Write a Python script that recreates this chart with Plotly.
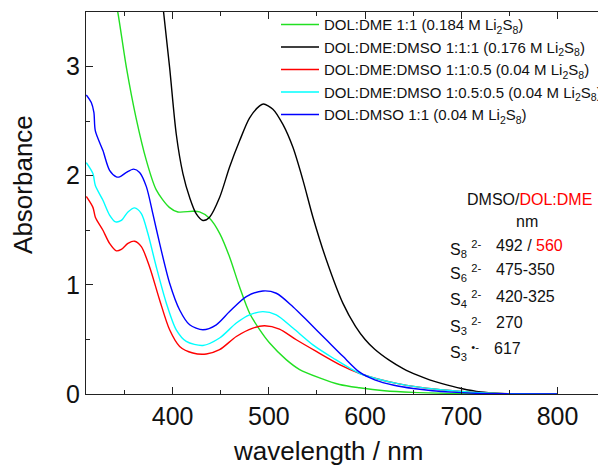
import plotly.graph_objects as go

# ---- data ----
wl_green = [340, 343, 352, 362, 372.7, 383, 396.6, 405.5, 421, 428, 438.4, 449, 459, 469.6, 480, 490.4,
            500.8, 518, 532, 552.7, 573.5, 594, 620, 650, 700, 750, 800]
abs_green = [3.62, 3.5, 2.99, 2.53, 2.14, 1.87, 1.71, 1.668, 1.674, 1.668, 1.61, 1.47, 1.26, 0.98, 0.74, 0.59,
             0.467, 0.315, 0.224, 0.148, 0.087, 0.057, 0.03, 0.015, 0.004, 0.0, 0.0]

wl_black = [389, 390.6, 396.9, 403.8, 410.7, 417.7, 424.6, 431.5, 438.4, 448.8, 459.2, 469.6, 480, 490.4, 494.5,
            504.2, 514.6, 525, 535.4, 545.8, 559.7, 577, 590, 600, 610, 625, 640, 655, 667, 680, 700, 720, 740, 760, 800]
abs_black = [3.65, 3.5, 2.99, 2.38, 2.02, 1.80, 1.65, 1.59, 1.62, 1.80, 2.08, 2.32, 2.53, 2.64, 2.657,
             2.61, 2.47, 2.26, 1.96, 1.62, 1.23, 0.83, 0.62, 0.50, 0.41, 0.31, 0.23, 0.17, 0.13, 0.095, 0.05,
             0.018, 0.005, 0.001, 0.0]

wl_red = [310.3, 317.2, 319.7, 327.6, 334.5, 341.5, 346.7, 353.6, 360.5, 367.5, 376, 386.5, 396.9, 407.3, 421,
          435, 448.8, 466.2, 483.4, 495.6, 511, 528.5, 549.3, 573.5, 594, 614, 634, 654, 674, 694, 714, 734, 760, 800]
abs_red = [1.81, 1.71, 1.62, 1.50, 1.38, 1.312, 1.325, 1.38, 1.40, 1.35, 1.166, 0.862, 0.588, 0.436, 0.376,
           0.367, 0.406, 0.527, 0.604, 0.625, 0.595, 0.497, 0.39, 0.27, 0.19, 0.135, 0.095, 0.065, 0.043, 0.027,
           0.015, 0.007, 0.002, 0.0]

wl_cyan = [310.3, 317.2, 319.7, 327.6, 334.5, 340.8, 346.7, 353.6, 360.5, 367.5, 374.3, 383, 393.5, 403.8, 414.2,
           431.5, 448.8, 466.2, 480, 493.8, 507.7, 525, 545.8, 566.6, 594, 614, 634, 654, 674, 694, 714, 734, 760, 800]
abs_cyan = [2.12, 2.02, 1.91, 1.775, 1.64, 1.577, 1.59, 1.668, 1.705, 1.653, 1.47, 1.166, 0.832, 0.588, 0.482,
            0.445, 0.513, 0.65, 0.725, 0.755, 0.725, 0.604, 0.45, 0.33, 0.19, 0.135, 0.095, 0.065, 0.043, 0.027,
            0.015, 0.007, 0.002, 0.0]

wl_blue = [310.3, 315.5, 318.2, 319.7, 327.6, 334.5, 341.5, 345, 352, 359.5, 365.7, 372.7, 379.5, 386.5, 396.9,
           407.3, 417.7, 431.5, 445.4, 459.2, 476.6, 493.8, 507.7, 525, 542.3, 559.7, 577, 594.3, 610, 630, 650,
           670, 690, 710, 730, 760, 800]
abs_blue = [2.74, 2.67, 2.58, 2.41, 2.23, 2.05, 1.99, 1.99, 2.03, 2.06, 2.03, 1.90, 1.65, 1.38, 1.015,
            0.77, 0.634, 0.588, 0.634, 0.755, 0.892, 0.944, 0.923, 0.80, 0.65, 0.497, 0.345, 0.2, 0.13, 0.08, 0.05,
            0.03, 0.017, 0.008, 0.003, 0.001, 0.0]

names = [
    "DOL:DME 1:1 (0.184 M Li<sub>2</sub>S<sub>8</sub>)",
    "DOL:DME:DMSO 1:1:1 (0.176 M Li<sub>2</sub>S<sub>8</sub>)",
    "DOL:DME:DMSO 1:1:0.5 (0.04 M Li<sub>2</sub>S<sub>8</sub>)",
    "DOL:DME:DMSO 1:0.5:0.5 (0.04 M Li<sub>2</sub>S<sub>8</sub>)",
    "DOL:DMSO 1:1 (0.04 M Li<sub>2</sub>S<sub>8</sub>)",
]
colors = ["#22e022", "#000000", "#ff0000", "#00ffff", "#0000ff"]
series = [(wl_green, abs_green), (wl_black, abs_black), (wl_red, abs_red), (wl_cyan, abs_cyan), (wl_blue, abs_blue)]

species = ["S<sub>8</sub> <sup>2-</sup>", "S<sub>6</sub> <sup>2-</sup>", "S<sub>4</sub> <sup>2-</sup>",
           "S<sub>3</sub> <sup>2-</sup>", "S<sub>3</sub> <sup>•-</sup>"]
bands = ["492 / <span style='color:#ff0000'>560</span>", "475-350", "420-325", "270", "617"]

# ---- layout geometry (pixels) ----
W, H = 598, 468
L, R, T, B = 86, 598, 11.7, 394.5
FONT = "Liberation Sans, Arial, sans-serif"

def px(x):
    return (x - L) / (R - L)

def py(y):
    return (B - y) / (B - T)

fig = go.Figure()
for (xs, ys), n, c in zip(series, names, colors):
    fig.add_trace(go.Scatter(x=xs, y=ys, mode="lines", name=n,
                             line=dict(color=c, width=1.4, shape="spline", smoothing=0.8)))

axis_common = dict(showline=True, linecolor="#222", linewidth=1.3, ticks="inside", tickcolor="#222",
                   tickwidth=1.3, ticklen=7, showgrid=False, zeroline=False,
                   tickfont=dict(family=FONT, size=25, color="#111"))

fig.update_layout(
    width=W, height=H,
    margin=dict(l=L, r=W - R, t=T, b=H - B, autoexpand=False),
    paper_bgcolor="white", plot_bgcolor="white",
    font=dict(family=FONT, color="#111"),
    xaxis=dict(range=[310, 842], dtick=100, tick0=0, mirror="ticks",
               minor=dict(dtick=50, tick0=0, ticks="inside", ticklen=3.5, tickwidth=1.3, tickcolor="#222"),
               **axis_common),
    yaxis=dict(range=[0, 3.5], dtick=1, tick0=0,
               minor=dict(dtick=0.5, tick0=0, ticks="inside", ticklen=3.5, tickwidth=1.3, tickcolor="#222"),
               **axis_common),
    showlegend=True,
    legend=dict(x=px(276), y=py(8), xanchor="left", yanchor="top", bgcolor="rgba(0,0,0,0)",
                font=dict(family=FONT, size=15, color="#111"), tracegroupgap=0, itemwidth=38),
)

ann = []
ann.append(dict(text="Absorbance", x=px(23), y=py(185), textangle=-90, showarrow=False,
                font=dict(family=FONT, size=26, color="#111"), xanchor="center", yanchor="middle"))
ann.append(dict(text="wavelength / nm", x=px(328), y=py(452), showarrow=False,
                font=dict(family=FONT, size=26, color="#111"), xanchor="center", yanchor="middle"))
ann.append(dict(text="DMSO/<span style='color:#ff0000'>DOL:DME</span>", x=px(529.5), y=py(200), showarrow=False,
                font=dict(family=FONT, size=16, color="#111"), xanchor="center", yanchor="middle"))
ann.append(dict(text="nm", x=px(527), y=py(222), showarrow=False,
                font=dict(family=FONT, size=16, color="#111"), xanchor="center", yanchor="middle"))
row_y = [245.7, 270, 296.7, 323.3, 349.3]
for s, b, yy in zip(species, bands, row_y):
    ann.append(dict(text=s, x=px(448), y=py(yy + 3), showarrow=False, xanchor="left", yanchor="middle",
                    font=dict(family=FONT, size=16, color="#111")))
    ann.append(dict(text=b, x=px(492 if b == "617" else 494), y=py(yy), showarrow=False,
                    xanchor="left", yanchor="middle", font=dict(family=FONT, size=16, color="#111")))
for a in ann:
    a["xref"] = "paper"
    a["yref"] = "paper"
fig.update_layout(annotations=ann)

fig.write_html("out.html")
